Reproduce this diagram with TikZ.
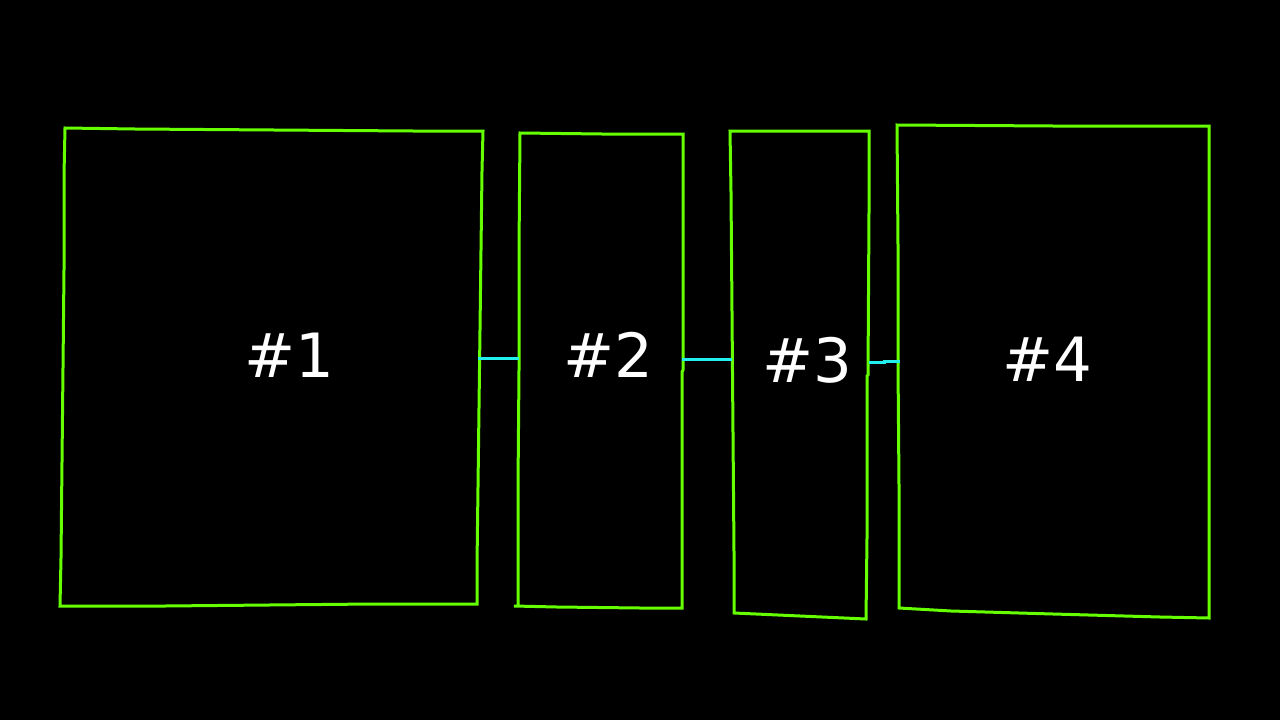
\documentclass[tikz,border=0pt]{standalone}
\usepackage{fontspec}
\setmainfont{DejaVu Sans}
\definecolor{boxgreen}{HTML}{66FF00}
\definecolor{linkcyan}{HTML}{22EEEE}
\begin{document}
\begin{tikzpicture}[x=1pt,y=-1pt,
  boxline/.style={draw=boxgreen,line width=3pt,line join=miter},
  linkline/.style={draw=linkcyan,line width=3pt},
  lbl/.style={text=white,font=\fontsize{61}{72}\selectfont,inner sep=0pt}]
\fill[black] (0,0) rectangle (1280,720);
\useasboundingbox (0,0) rectangle (1280,720);
% box 1
\coordinate (b1tl) at (65,128); \coordinate (b1tr) at (483,131);
\coordinate (b1br) at (477,604); \coordinate (b1bl) at (60,606);
\draw[boxline] (b1tl) -- (135,129) -- (274,130) -- (413,131) -- (b1tr) -- (482,171) -- (481,250) -- (480,330) -- (479,408) -- (478,487) -- (477,565) -- (b1br) -- (373,604) -- (165,606) -- (b1bl) -- (61,558) -- (62,462) -- (63,368) -- (64,270) -- (64,175) -- cycle;
% box 2
\coordinate (b2tl) at (520,133); \coordinate (b2tr) at (683,134);
\coordinate (b2br) at (682,608); \coordinate (b2bl) at (518,606);
\draw[boxline] (b2tl) -- (602,134) -- (b2tr) -- (683,370) -- (682,372) -- (b2br) -- (640,608) -- (557,607) -- (514,606) -- (b2bl) -- (518,486) -- (519,370) -- (519,250) -- cycle;
% box 3
\coordinate (b3tl) at (730,131); \coordinate (b3tr) at (869,131);
\coordinate (b3br) at (866,619); \coordinate (b3bl) at (734,613);
\draw[boxline] (b3tl) -- (800,131) -- (b3tr) -- (869,212) -- (868,375) -- (867,376) -- (867,538) -- (b3br) -- (800,616) -- (b3bl) -- (734,552) -- (733,433) -- (732,312) -- (731,192) -- cycle;
% box 4
\coordinate (b4tl) at (897,125); \coordinate (b4tr) at (1209,126);
\coordinate (b4br) at (1209,618); \coordinate (b4bl) at (899,608);
\draw[boxline] (b4tl) -- (1053,126) -- (b4tr) -- (b4br) -- (1160,617) -- (1053,614) -- (951,611) -- (b4bl) -- (899,485) -- (898,365) -- (898,245) -- cycle;
% labels
\node[lbl] (l1) at (289,355) {\#1};
\node[lbl] (l2) at (608,355) {\#2};
\node[lbl] (l3) at (807,360) {\#3};
\node[lbl] (l4) at (1047,359) {\#4};
% connectors
\coordinate (k1a) at (478,358); \coordinate (k1b) at (519,358);
\coordinate (k2a) at (682,359); \coordinate (k2b) at (732,359);
\coordinate (k3a) at (869,362); \coordinate (k3b) at (900,361);
\draw[linkline] (k1a) -- (k1b);
\draw[linkline] (k2a) -- (k2b);
\draw[linkline] (k3a) -- (884,362) -- (884,361) -- (k3b);
\end{tikzpicture}
\end{document}
